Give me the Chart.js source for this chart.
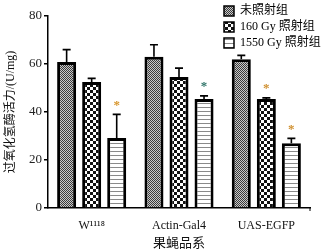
<!DOCTYPE html>
<html>
<head>
<meta charset="utf-8">
<script src="https://cdn.jsdelivr.net/npm/chart.js@4"></script>
<style>
body { margin:0; background:#fff; }
#wrap { position:relative; width:330px; height:251px; }
</style>
</head>
<body>
<div id="wrap"><canvas id="c" width="330" height="251"></canvas></div>
<script>
// data
const kategori = ['W\u00B9\u00B9\u00B9\u2078', 'Actin-Gal4', 'UAS-EGFP']
const seri = ['未照射组', '160 Gy 照射组', '1550 Gy 照射组']
const nilai0 = [60.8, 63, 62]
const nilai1 = [52.5, 54.6, 45.4]
const nilai2 = [29.2, 45.4, 27]
const err0 = [5.2, 5, 1.6]
const err1 = [1.5, 3.7, 0.5]
const err2 = [9.8, 1.3, 2]
const bintang1 = [false, false, true]
const bintang2 = [true, true, true]
const yTicks = [0, 20, 40, 60, 80]

const serif = '"Liberation Serif", "DejaVu Serif", "Noto Sans CJK SC", serif'

const pola = (w, h, f) => {
	const c = document.createElement('canvas')
	c.width = w; c.height = h
	const g = c.getContext('2d')
	f(g)
	return g.createPattern(c, 'repeat')
}

const ctx = document.getElementById('c').getContext('2d')

// fine gray check
const p0 = pola(2, 2, g => {
	g.fillStyle = '#c8c8c8'; g.fillRect(0, 0, 2, 2)
	g.fillStyle = '#3a3a3a'; g.fillRect(0, 0, 1, 1); g.fillRect(1, 1, 1, 1)
})
// coarse black/white check
const p1 = pola(6, 6, g => {
	g.fillStyle = '#fff'; g.fillRect(0, 0, 6, 6)
	g.fillStyle = '#111'; g.fillRect(0, 0, 3, 3); g.fillRect(3, 3, 3, 3)
})
// horizontal stripes
const p2 = pola(4, 4, g => {
	g.fillStyle = '#fff'; g.fillRect(0, 0, 4, 4)
	g.fillStyle = '#8a8a8a'; g.fillRect(0, 3, 4, 1)
})
const polaList = [p0, p1, p2]
const errList = [err0, err1, err2]
const bintangList = [[false, false, false], bintang1, bintang2]
const warnaBintang = ['#d8962c', '#2f7468', '#d09030']

const errPlugin = {
	id: 'errbar',
	afterDatasetsDraw: ch => {
		const g = ch.ctx, y = ch.scales.y
		g.save()
		ch.data.datasets.forEach((ds, i) => {
			ch.getDatasetMeta(i).data.forEach((b, j) => {
				const top = y.getPixelForValue(ds.data[j] + errList[i][j])
				g.strokeStyle = '#000'; g.lineWidth = 1.6
				g.beginPath()
				g.moveTo(b.x, b.y); g.lineTo(b.x, top)
				g.moveTo(b.x - 4, top); g.lineTo(b.x + 4, top)
				g.stroke()
				if (bintangList[i][j]) {
					g.fillStyle = warnaBintang[j]
					g.font = 'bold 13px ' + serif
					g.textAlign = 'center'; g.textBaseline = 'middle'
					g.fillText('*', b.x, top - 9)
				}
			})
		})
		// small end tick on x axis
		const a = ch.chartArea
		g.lineWidth = 1
		g.beginPath(); g.moveTo(a.right, a.bottom); g.lineTo(a.right, a.bottom + 3); g.stroke()
		// legend
		const rows = [11, 27, 43]
		g.font = '12px ' + serif
		g.textAlign = 'left'; g.textBaseline = 'middle'
		seri.forEach((s, i) => {
			g.fillStyle = polaList[i]
			g.fillRect(224, rows[i] - 5, 10, 10)
			g.strokeStyle = '#000'; g.lineWidth = 1.5
			g.strokeRect(224, rows[i] - 5, 10, 10)
			g.fillStyle = '#000'
			g.fillText(s, 240, rows[i])
		})
		g.restore()
	}
}

new Chart(ctx, {
	type: 'bar',
	data: {
		labels: kategori,
		datasets: [nilai0, nilai1, nilai2].map((d, i) => ({
			label: seri[i],
			data: d,
			backgroundColor: polaList[i],
			borderColor: '#000',
			borderWidth: 3,
			categoryPercentage: 0.86,
			barPercentage: 0.76,
		}))
	},
	options: {
		responsive: false,
		animation: false,
		layout: { padding: { top: 16, right: 20, left: 0, bottom: 0 } },
		plugins: { legend: { display: false }, tooltip: { enabled: false } },
		scales: {
			x: {
				grid: { display: false },
				border: { display: true, color: '#000', width: 1.5 },
				ticks: { color: '#111', font: { family: serif, size: 12 }, padding: 3 },
				title: { display: true, text: '果蝇品系', color: '#111', font: { family: serif, size: 13 }, padding: { top: 2, bottom: 0 } },
				afterFit: s => { s.height = 43 },
			},
			y: {
				min: 0, max: 80,
				afterBuildTicks: s => { s.ticks = yTicks.map(v => ({ value: v })) },
				grid: { drawOnChartArea: false, drawTicks: true, tickLength: 4, color: '#000', lineWidth: 1.5 },
				border: { display: true, color: '#000', width: 1.5 },
				ticks: { color: '#222', font: { family: serif, size: 13 }, padding: 2 },
				title: { display: true, text: '过氧化氢酶活力/(U/mg)', color: '#111', font: { family: serif, size: 12 }, padding: { top: 4, bottom: 0 } },
				afterFit: s => { s.width = 48 },
			}
		}
	},
	plugins: [errPlugin]
})
</script>
</body>
</html>
